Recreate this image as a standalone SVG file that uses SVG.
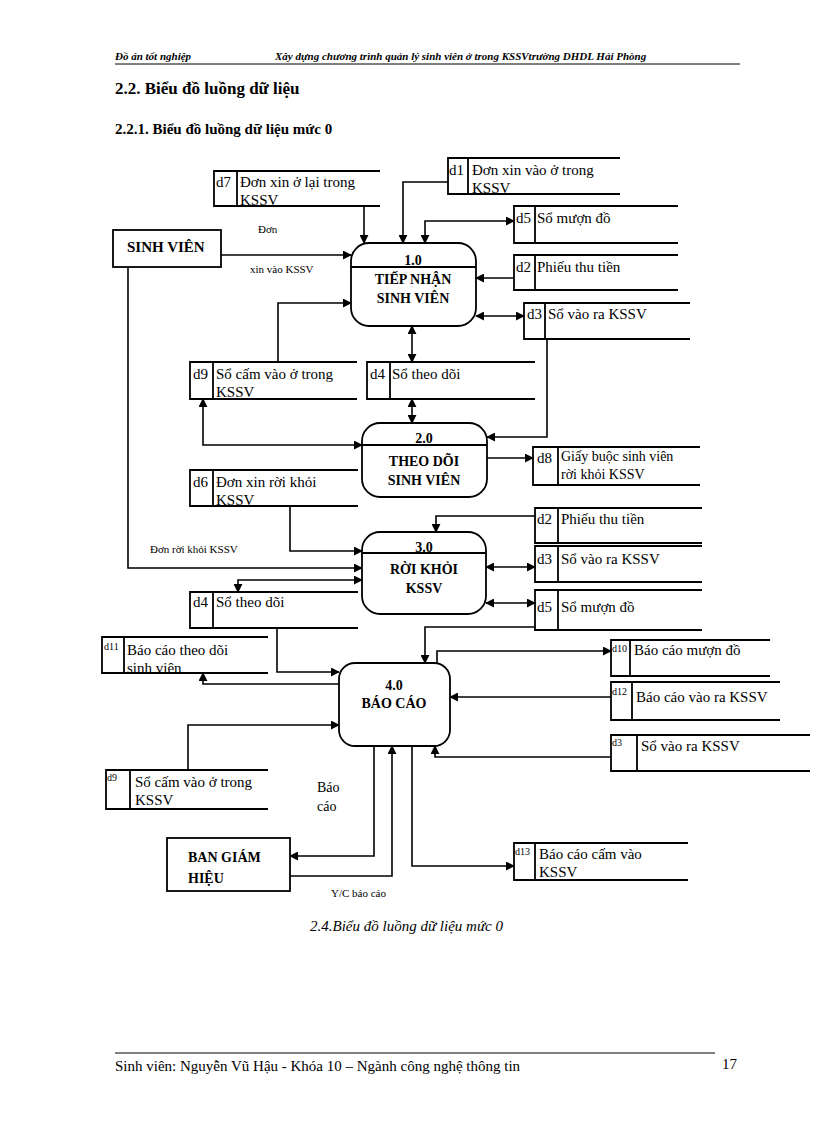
<svg xmlns="http://www.w3.org/2000/svg" width="816" height="1123" viewBox="0 0 816 1123">
<defs>
<marker id="a" viewBox="0 0 10 10" refX="9" refY="5" markerWidth="9" markerHeight="9" markerUnits="userSpaceOnUse" orient="auto-start-reverse"><path d="M0,0 L10,5 L0,10 z" fill="#000"/></marker>
<style>
text{font-family:"Liberation Serif",serif;fill:#000}
.s{fill:none;stroke:#000;stroke-width:1.8}
.p{fill:#fff;stroke:#000;stroke-width:1.8}
.c{fill:none;stroke:#000;stroke-width:1.6}
.t{font-size:15px}
.sm{font-size:10px}
.b{font-weight:bold;font-size:14px}
.lb{font-size:11px}
</style>
</defs>
<rect width="816" height="1123" fill="#fff"/>
<text x="115" y="60" style="font-size:11px;font-style:italic;font-weight:bold">Đồ án tốt nghiệp</text>
<text x="275" y="60" style="font-size:11px;font-style:italic;font-weight:bold">Xây dựng chương trình quản lý sinh viên ở trong KSSVtrường DHDL Hải Phòng</text>
<line x1="115" y1="64" x2="740" y2="64" stroke="#000" stroke-width="1"/>
<text x="115" y="94" style="font-size:17px;font-weight:bold">2.2. Biểu đồ luồng dữ liệu</text>
<text x="115" y="134" style="font-size:15px;font-weight:bold">2.2.1. Biểu đồ luồng dữ liệu mức 0</text>

<g id="connectors">
<path class="c" d="M221,255 H351" marker-end="url(#a)"/>
<path class="c" d="M364,206 V243" marker-end="url(#a)"/>
<path class="c" d="M448,182 H403 V243" marker-end="url(#a)"/>
<path class="c" d="M425,243 V221 H514" marker-start="url(#a)" marker-end="url(#a)"/>
<path class="c" d="M514,278 H476" marker-end="url(#a)"/>
<path class="c" d="M476,316 H524" marker-start="url(#a)" marker-end="url(#a)"/>
<path class="c" d="M278,362 V303 H351" marker-end="url(#a)"/>
<path class="c" d="M412,326 V362" marker-start="url(#a)" marker-end="url(#a)"/>
<path class="c" d="M412,399 V423" marker-start="url(#a)" marker-end="url(#a)"/>
<path class="c" d="M362,445 H203 V399" marker-start="url(#a)" marker-end="url(#a)"/>
<path class="c" d="M547,339 V437 H487" marker-end="url(#a)"/>
<path class="c" d="M487,458 H533" marker-end="url(#a)"/>
<path class="c" d="M128,267 V568 H362" marker-end="url(#a)"/>
<path class="c" d="M290,506 V551 H362" marker-end="url(#a)"/>
<path class="c" d="M362,580 H238 V592" marker-start="url(#a)" marker-end="url(#a)"/>
<path class="c" d="M535,516 H436 V532" marker-end="url(#a)"/>
<path class="c" d="M486,567 H535" marker-start="url(#a)" marker-end="url(#a)"/>
<path class="c" d="M486,603 H535" marker-start="url(#a)" marker-end="url(#a)"/>
<path class="c" d="M535,627 H425 V663" marker-end="url(#a)"/>
<path class="c" d="M277,628 V672 H339" marker-end="url(#a)"/>
<path class="c" d="M339,684 H203 V673" marker-end="url(#a)"/>
<path class="c" d="M437,663 V651 H611" marker-end="url(#a)"/>
<path class="c" d="M611,697 H450" marker-end="url(#a)"/>
<path class="c" d="M611,757 H435 V746" marker-end="url(#a)"/>
<path class="c" d="M188,770 V725 H339" marker-end="url(#a)"/>
<path class="c" d="M374,746 V856 H290" marker-end="url(#a)"/>
<path class="c" d="M290,876 H392 V746" marker-end="url(#a)"/>
<path class="c" d="M412,746 V866 H514" marker-end="url(#a)"/>
<text x="258" y="233" class="lb">Đơn</text>
<text x="250" y="273" class="lb">xin vào KSSV</text>
<text x="150" y="553" class="lb">Đơn rời khỏi KSSV</text>
<text x="317" y="792" style="font-size:14px">Báo</text>
<text x="317" y="811" style="font-size:14px">cáo</text>
<text x="331" y="897" class="lb">Y/C báo cáo</text>
</g>

<g id="sinhvien"><rect class="p" x="113" y="230" width="108" height="37"/><text x="127" y="252" class="b" style="font-size:15px">SINH VIÊN</text></g>
<g id="bgh"><rect class="p" x="167" y="838" width="123" height="53"/><text x="188" y="862" class="b">BAN GIÁM</text><text x="188" y="883" class="b">HIỆU</text></g>

<g id="p1"><rect class="p" x="351" y="243" width="125" height="83" rx="18"/><line class="s" x1="351" y1="267" x2="476" y2="267"/><text x="413" y="265" class="b" text-anchor="middle">1.0</text><text x="413" y="284" class="b" text-anchor="middle">TIẾP NHẬN</text><text x="413" y="303" class="b" text-anchor="middle">SINH VIÊN</text></g>
<g id="p2"><rect class="p" x="362" y="423" width="125" height="74" rx="18"/><line class="s" x1="362" y1="445" x2="487" y2="445"/><text x="424" y="443" class="b" text-anchor="middle">2.0</text><text x="424" y="466" class="b" text-anchor="middle">THEO DÕI</text><text x="424" y="485" class="b" text-anchor="middle">SINH VIÊN</text></g>
<g id="p3"><rect class="p" x="362" y="532" width="124" height="82" rx="18"/><line class="s" x1="362" y1="553" x2="486" y2="553"/><text x="424" y="552" class="b" text-anchor="middle">3.0</text><text x="424" y="574" class="b" text-anchor="middle">RỜI KHỎI</text><text x="424" y="593" class="b" text-anchor="middle">KSSV</text></g>
<g id="p4"><rect class="p" x="339" y="663" width="111" height="83" rx="16"/><text x="394" y="690" class="b" text-anchor="middle">4.0</text><text x="394" y="708" class="b" text-anchor="middle">BÁO CÁO</text></g>

<g id="d7"><path class="s" d="M380,171 H214 V206 H380 M237,171 V206"/><text x="216" y="187" class="t">d7</text><text x="240" y="187" class="t">Đơn xin ở lại trong</text><text x="240" y="205" class="t">KSSV</text></g>
<g id="d1"><path class="s" d="M620,158 H448 V194 H620 M468,158 V194"/><text x="449" y="175" class="t">d1</text><text x="472" y="175" class="t">Đơn xin vào ở trong</text><text x="472" y="193" class="t">KSSV</text></g>
<g id="d5a"><path class="s" d="M678,206 H514 V243 H678 M535,206 V243"/><text x="516" y="223" class="t">d5</text><text x="537" y="223" class="t">Sổ mượn đồ</text></g>
<g id="d2a"><path class="s" d="M678,255 H514 V290 H678 M535,255 V290"/><text x="516" y="272" class="t">d2</text><text x="537" y="272" class="t">Phiếu thu tiền</text></g>
<g id="d3a"><path class="s" d="M690,303 H524 V339 H690 M545,303 V339"/><text x="527" y="319" class="t">d3</text><text x="548" y="319" class="t">Sổ vào ra KSSV</text></g>
<g id="d9a"><path class="s" d="M357,362 H190 V399 H357 M213,362 V399"/><text x="193" y="379" class="t">d9</text><text x="216" y="379" class="t">Sổ cấm vào ở trong</text><text x="216" y="397" class="t">KSSV</text></g>
<g id="d4a"><path class="s" d="M535,362 H367 V399 H535 M390,362 V399"/><text x="370" y="379" class="t">d4</text><text x="392" y="379" class="t">Sổ theo dõi</text></g>
<g id="d8"><path class="s" d="M700,447 H533 V485 H700 M558,447 V485"/><text x="537" y="463" class="t">d8</text><text x="561" y="461" style="font-size:14px">Giấy buộc sinh viên</text><text x="561" y="479" style="font-size:14px">rời khỏi KSSV</text></g>
<g id="d6"><path class="s" d="M358,470 H190 V506 H358 M213,470 V506"/><text x="193" y="487" class="t">d6</text><text x="216" y="487" class="t">Đơn xin rời khỏi</text><text x="216" y="505" class="t">KSSV</text></g>
<g id="d2b"><path class="s" d="M702,508 H535 V543 H702 M558,508 V543"/><text x="537" y="524" class="t">d2</text><text x="561" y="524" class="t">Phiếu thu tiền</text></g>
<g id="d3b"><path class="s" d="M702,546 H535 V582 H702 M558,546 V582"/><text x="537" y="564" class="t">d3</text><text x="561" y="564" class="t">Sổ vào ra KSSV</text></g>
<g id="d5b"><path class="s" d="M702,590 H535 V630 H702 M558,590 V630"/><text x="537" y="612" class="t">d5</text><text x="561" y="612" class="t">Sổ mượn đồ</text></g>
<g id="d4b"><path class="s" d="M358,592 H190 V628 H358 M213,592 V628"/><text x="193" y="607" class="t">d4</text><text x="216" y="607" class="t">Sổ theo dõi</text></g>
<g id="d11"><path class="s" d="M268,637 H102 V673 H268 M124,637 V673"/><text x="104" y="650" class="sm">d11</text><text x="127" y="655" class="t">Báo cáo theo dõi</text><text x="127" y="673" class="t">sinh viên</text></g>
<g id="d10"><path class="s" d="M770,640 H611 V676 H770 M630,640 V676"/><text x="612" y="652" class="sm">d10</text><text x="634" y="655" class="t">Báo cáo mượn đồ</text></g>
<g id="d12"><path class="s" d="M780,682 H611 V720 H780 M632,682 V720"/><text x="612" y="695" class="sm">d12</text><text x="636" y="702" class="t">Báo cáo vào ra KSSV</text></g>
<g id="d3c"><path class="s" d="M810,735 H611 V771 H810 M637,735 V771"/><text x="612" y="746" class="sm">d3</text><text x="641" y="751" class="t">Sổ vào ra KSSV</text></g>
<g id="d9b"><path class="s" d="M268,770 H106 V809 H268 M130,770 V809"/><text x="107" y="781" class="sm">d9</text><text x="135" y="787" class="t">Sổ cấm vào ở trong</text><text x="135" y="805" class="t">KSSV</text></g>
<g id="d13"><path class="s" d="M688,843 H514 V880 H688 M535,843 V880"/><text x="515" y="855" class="sm">d13</text><text x="539" y="859" class="t">Báo cáo cấm vào</text><text x="539" y="877" class="t">KSSV</text></g>

<text x="310" y="931" style="font-size:15px;font-style:italic">2.4.Biểu đồ luồng dữ liệu mức 0</text>
<line x1="115" y1="1053" x2="715" y2="1053" stroke="#000" stroke-width="1"/>
<text x="115" y="1071" style="font-size:15px">Sinh viên: Nguyễn Vũ Hậu - Khóa 10 – Ngành công nghệ thông tin</text>
<text x="722" y="1069" style="font-size:15px">17</text>
</svg>
